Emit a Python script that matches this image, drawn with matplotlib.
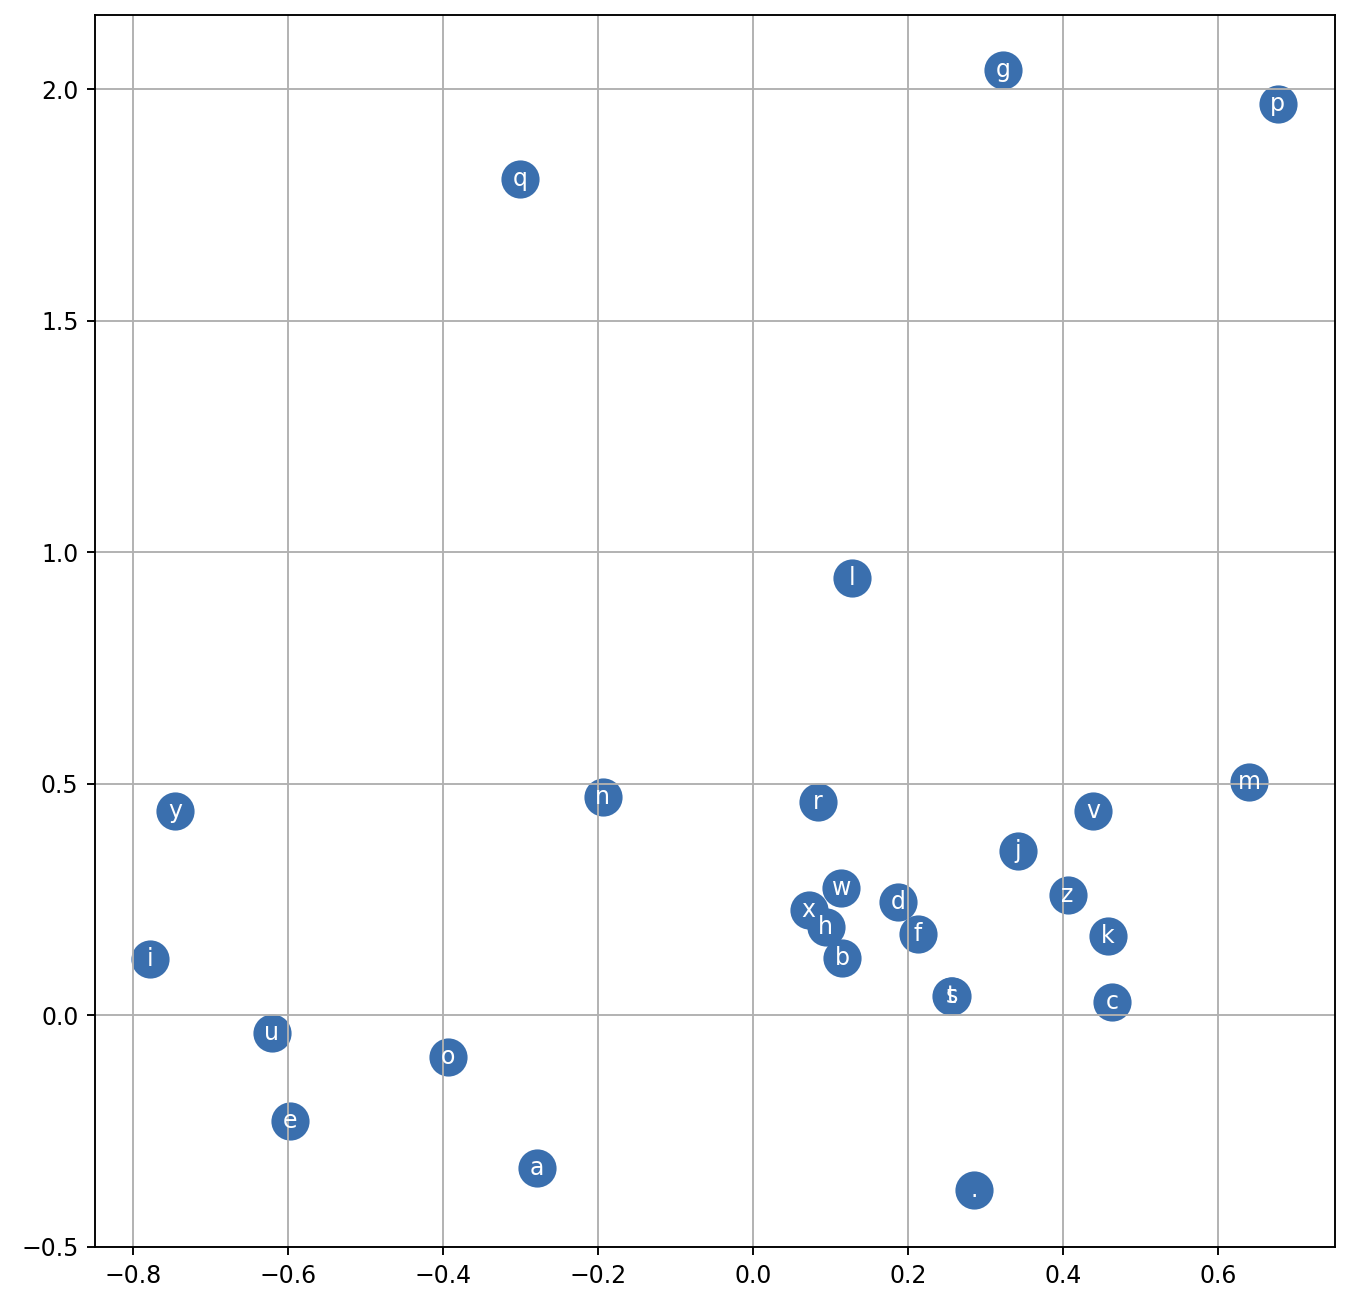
import matplotlib
matplotlib.use('Agg')
import matplotlib.pyplot as plt

chars = ['.', 'a', 'b', 'c', 'd', 'e', 'f', 'g', 'h', 'i', 'j', 'k', 'l', 'm',
         'n', 'o', 'p', 'q', 'r', 's', 't', 'u', 'v', 'w', 'x', 'y', 'z']
xs = [0.285, -0.279, 0.115, 0.463, 0.187, -0.597, 0.213, 0.323, 0.094, -0.778,
      0.342, 0.458, 0.128, 0.640, -0.194, -0.394, 0.677, -0.301, 0.084, 0.257,
      0.255, -0.621, 0.439, 0.114, 0.072, -0.746, 0.406]
ys = [-0.378, -0.330, 0.125, 0.028, 0.244, -0.227, 0.175, 2.041, 0.190, 0.121,
      0.354, 0.171, 0.944, 0.503, 0.471, -0.089, 1.968, 1.806, 0.460, 0.041,
      0.043, -0.037, 0.441, 0.276, 0.227, 0.441, 0.261]

fig = plt.figure(figsize=(1346 / 170, 1302 / 170), dpi=170)
ax = fig.add_axes([95 / 1346, 1 - 1247 / 1302, 1240 / 1346, 1232 / 1302])
ax.scatter(xs, ys, s=230, color='#3a6fae')
# t and s sit on top of each other, same as the reference
for x, y, c in zip(xs, ys, chars):
    ax.text(x, y, c, ha='center', va='center', color='white')
ax.set_xlim(-0.849, 0.751)
ax.set_ylim(-0.5, 2.160)
ax.grid('minor')
fig.savefig('out.png')
